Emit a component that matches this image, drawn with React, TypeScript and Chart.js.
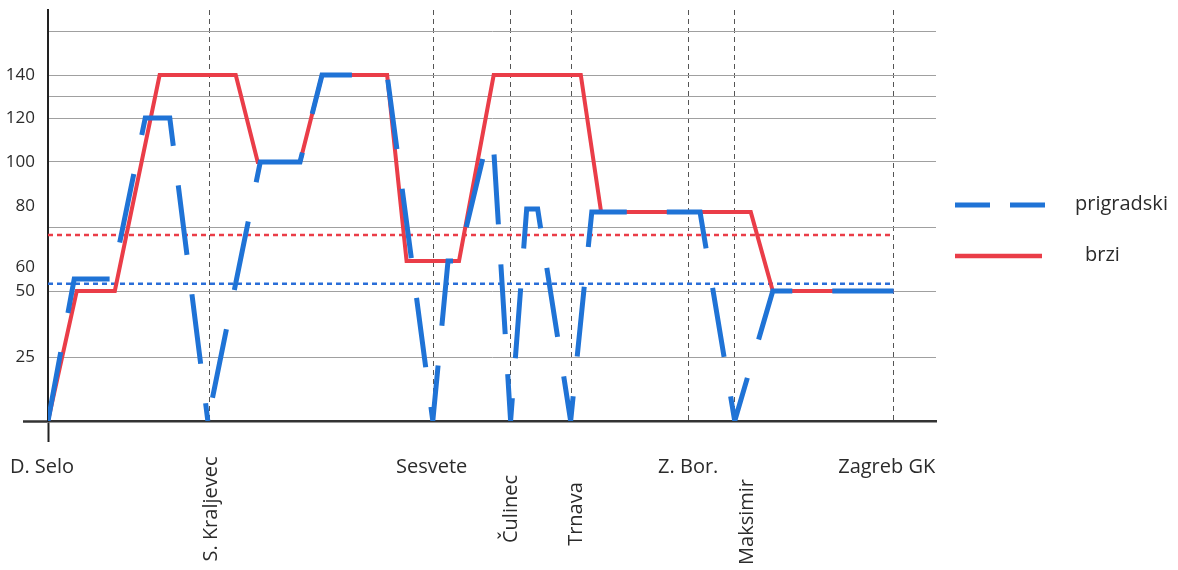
import React, { useEffect, useRef } from 'react';
import { Chart, LinearScale, registerables } from 'chart.js';

// ---- data ----
const STATIONS = ['D. Selo', 'S. Kraljevec', 'Sesvete', 'Čulinec', 'Trnava', 'Z. Bor.', 'Maksimir', 'Zagreb GK'];
const STATION_DIST = [0, 19.1, 45.6, 54.7, 61.9, 75.7, 81.2, 100];

const SERIES_NAMES = ['prigradski', 'brzi'];

const PRIG_DIST = [0, 3.1, 7.6, 11.5, 14.4, 18.9, 25.1, 29.8, 32.4, 40.1, 45.5, 47.3, 48.5, 52.0, 52.7, 54.7, 56.6, 57.9, 61.8, 64.3, 77.1, 81.2, 85.7, 100];
const PRIG_SPEED = [0, 55, 55, 120, 120, 0, 100, 100, 140, 140, 0, 62, 62, 111, 106, 0, 79, 79, 0, 78, 78, 0, 50, 50];

const BRZI_DIST = [0, 3.4, 7.9, 13.2, 22.2, 24.8, 29.8, 32.4, 40.1, 42.4, 48.6, 52.7, 63.0, 65.4, 83.1, 85.7, 100];
const BRZI_SPEED = [0, 50, 50, 140, 140, 100, 100, 140, 140, 62, 62, 140, 140, 78, 78, 50, 50];

const AVG_PRIG = 53;
const AVG_BRZI = 70.5;

const Y_TICK_LABELS = [25, 50, 60, 80, 100, 120, 140];
const Y_GRID_VALUES = [0, 25, 50, 73, 100, 120, 130, 140, 160];

// the dashed line of the original restarts its dash pattern at S. Kraljevec
const PRIG_RESTART_INDEX = 5;

// ---- non-linear value axis (the original axis is unevenly spaced) ----
const Y_KNOT_VALUES = [0, 25, 50, 60, 80, 100, 120, 140, 170];
const Y_KNOT_FRACTIONS = [0, 0.1557, 0.3163, 0.3747, 0.5231, 0.6302, 0.7372, 0.8418, 1];

function interp(xs: number[], ys: number[], v: number): number {
  const n = xs.length - 1;
  if (v <= xs[0]) return ys[0] + (v - xs[0]) * (ys[1] - ys[0]) / (xs[1] - xs[0]);
  for (let i = 1; i <= n; i++) {
    if (v <= xs[i]) {
      const t = (v - xs[i - 1]) / (xs[i] - xs[i - 1]);
      return ys[i - 1] + t * (ys[i] - ys[i - 1]);
    }
  }
  return ys[n] + (v - xs[n]) * (ys[n] - ys[n - 1]) / (xs[n] - xs[n - 1]);
}

class PiecewiseScale extends LinearScale {
  static id = 'piecewise';
  static defaults = { ...(LinearScale as any).defaults };
  getPixelForValue(value: any) {
    if (value === null || value === undefined || isNaN(value)) return NaN;
    return (this as any).getPixelForDecimal(interp(Y_KNOT_VALUES, Y_KNOT_FRACTIONS, value));
  }
  getValueForPixel(pixel: number) {
    return interp(Y_KNOT_FRACTIONS, Y_KNOT_VALUES, (this as any).getDecimalForPixel(pixel));
  }
}

Chart.register(...registerables, PiecewiseScale as any);

const BLUE = '#1f73d6';
const RED = '#ea3d48';
const TEXT = '#2b2b2b';
const DASH_A = [70, 39.8];
const DASH_B = [70, 40];

const LABEL_LAYOUT = [
  { rotate: false, dx: -6, y: 467 },
  { rotate: true, dx: 2, y: 509 },
  { rotate: false, dx: -2, y: 467 },
  { rotate: true, dx: 1, y: 509 },
  { rotate: true, dx: 5, y: 514 },
  { rotate: false, dx: 0, y: 467 },
  { rotate: true, dx: 13, y: 522 },
  { rotate: false, dx: -7, y: 467 },
];

const overlayPlugin = {
  id: 'overlayText',
  afterDraw(chart: any) {
    const ctx = chart.ctx as CanvasRenderingContext2D;
    const xs = chart.scales.x;
    ctx.save();
    ctx.fillStyle = TEXT;
    ctx.font = '20px "Open Sans", sans-serif';
    ctx.textAlign = 'center';
    ctx.textBaseline = 'middle';
    STATIONS.forEach((name, i) => {
      const lay = LABEL_LAYOUT[i];
      const px = xs.getPixelForValue(STATION_DIST[i]) + lay.dx;
      if (lay.rotate) {
        ctx.save();
        ctx.translate(px, lay.y);
        ctx.rotate(-Math.PI / 2);
        ctx.fillText(name, 0, 0);
        ctx.restore();
      } else {
        ctx.fillText(name, px, lay.y);
      }
    });

    // legend
    ctx.lineCap = 'butt';
    ctx.strokeStyle = BLUE;
    ctx.lineWidth = 5;
    ctx.setLineDash([35, 20]);
    ctx.beginPath();
    ctx.moveTo(955, 205);
    ctx.lineTo(1045, 205);
    ctx.stroke();
    ctx.setLineDash([]);
    ctx.strokeStyle = RED;
    ctx.lineWidth = 4.5;
    ctx.beginPath();
    ctx.moveTo(955, 256);
    ctx.lineTo(1042, 256);
    ctx.stroke();
    ctx.textAlign = 'left';
    ctx.fillStyle = TEXT;
    ctx.fillText(SERIES_NAMES[0], 1075, 204);
    ctx.fillText(SERIES_NAMES[1], 1085, 255);
    ctx.restore();
  },
};

export default function App() {
  const ref = useRef<HTMLCanvasElement>(null);
  useEffect(() => {
    document.body.style.margin = '0';
    document.body.style.overflow = 'hidden';
    Chart.defaults.font.family = '"Open Sans", sans-serif';
    const transparent = 'rgba(0,0,0,0)';
    const prigPoints = PRIG_DIST.map((d, i) => ({ x: d, y: PRIG_SPEED[i] }));
    const prigStyle = {
      borderColor: BLUE,
      borderWidth: 5,
      pointRadius: 0,
      tension: 0,
      fill: false,
      order: 0,
    };
    const chart = new Chart(ref.current as HTMLCanvasElement, {
      type: 'line',
      data: {
        datasets: [
          {
            label: SERIES_NAMES[0],
            data: prigPoints.slice(0, PRIG_RESTART_INDEX + 1),
            ...prigStyle,
            borderDash: DASH_A,
            borderDashOffset: 0,
          },
          {
            label: SERIES_NAMES[0] + ' (2)',
            data: prigPoints.slice(PRIG_RESTART_INDEX),
            ...prigStyle,
            borderDash: DASH_B,
            borderDashOffset: 86.4,
          },
          {
            label: SERIES_NAMES[1],
            data: BRZI_DIST.map((d, i) => ({ x: d, y: BRZI_SPEED[i] })),
            borderColor: RED,
            borderWidth: 4,
            pointRadius: 0,
            tension: 0,
            fill: false,
            order: 1,
          },
          {
            label: 'avg brzi',
            data: [{ x: 0, y: AVG_BRZI }, { x: 100, y: AVG_BRZI }],
            borderColor: RED,
            borderWidth: 2.5,
            borderDash: [5, 4],
            pointRadius: 0,
            fill: false,
            order: 2,
          },
          {
            label: 'avg prigradski',
            data: [{ x: 0, y: AVG_PRIG }, { x: 100, y: AVG_PRIG }],
            borderColor: '#2a6ed8',
            borderWidth: 2.5,
            borderDash: [5, 4],
            pointRadius: 0,
            fill: false,
            order: 3,
          },
        ],
      },
      options: {
        animation: false,
        responsive: true,
        maintainAspectRatio: false,
        events: [],
        layout: { padding: { top: 10, right: 242, left: 0, bottom: 0 } },
        plugins: { legend: { display: false }, tooltip: { enabled: false } },
        scales: {
          x: {
            type: 'linear',
            min: 0,
            max: 105,
            afterBuildTicks: (s: any) => {
              s.ticks = STATION_DIST.map((v) => ({ value: v }));
            },
            afterFit: (s: any) => {
              s.height = 149;
            },
            ticks: { display: false },
            grid: {
              color: (c: any) => (c.tick && c.tick.value === 0 ? transparent : '#555'),
              lineWidth: 1,
              drawTicks: true,
              tickLength: 21,
              tickWidth: 2,
              tickColor: (c: any) => (c.tick && c.tick.value === 0 ? '#222' : transparent),
            },
            border: {
              display: true,
              color: '#333',
              width: 2.5,
              dash: (c: any) => (c.type === 'tick' ? [5, 4] : []),
            },
          },
          y: {
            type: 'piecewise' as any,
            min: 0,
            max: 170,
            afterBuildTicks: (s: any) => {
              const vals = Array.from(new Set([...Y_GRID_VALUES, ...Y_TICK_LABELS])).sort((a, b) => a - b);
              s.ticks = vals.map((v) => ({ value: v }));
            },
            afterFit: (s: any) => {
              s.width = 48;
            },
            ticks: {
              autoSkip: false,
              padding: -12,
              color: TEXT,
              font: { size: 17 },
              callback: (v: any) => (Y_TICK_LABELS.includes(v) ? String(v) : ''),
            },
            grid: {
              color: (c: any) =>
                c.tick && c.tick.value !== 0 && Y_GRID_VALUES.includes(c.tick.value) ? '#a0a0a0' : transparent,
              lineWidth: 1,
              drawTicks: true,
              tickLength: 25,
              tickWidth: 2.5,
              tickColor: (c: any) => (c.tick && c.tick.value === 0 ? '#333' : transparent),
            },
            border: { display: true, color: '#222', width: 2 },
          },
        } as any,
      },
      plugins: [overlayPlugin],
    } as any);
    return () => chart.destroy();
  }, []);
  return (
    <div style={{ width: 1178, height: 570, position: 'relative', background: '#fff' }}>
      <canvas ref={ref} />
    </div>
  );
}
